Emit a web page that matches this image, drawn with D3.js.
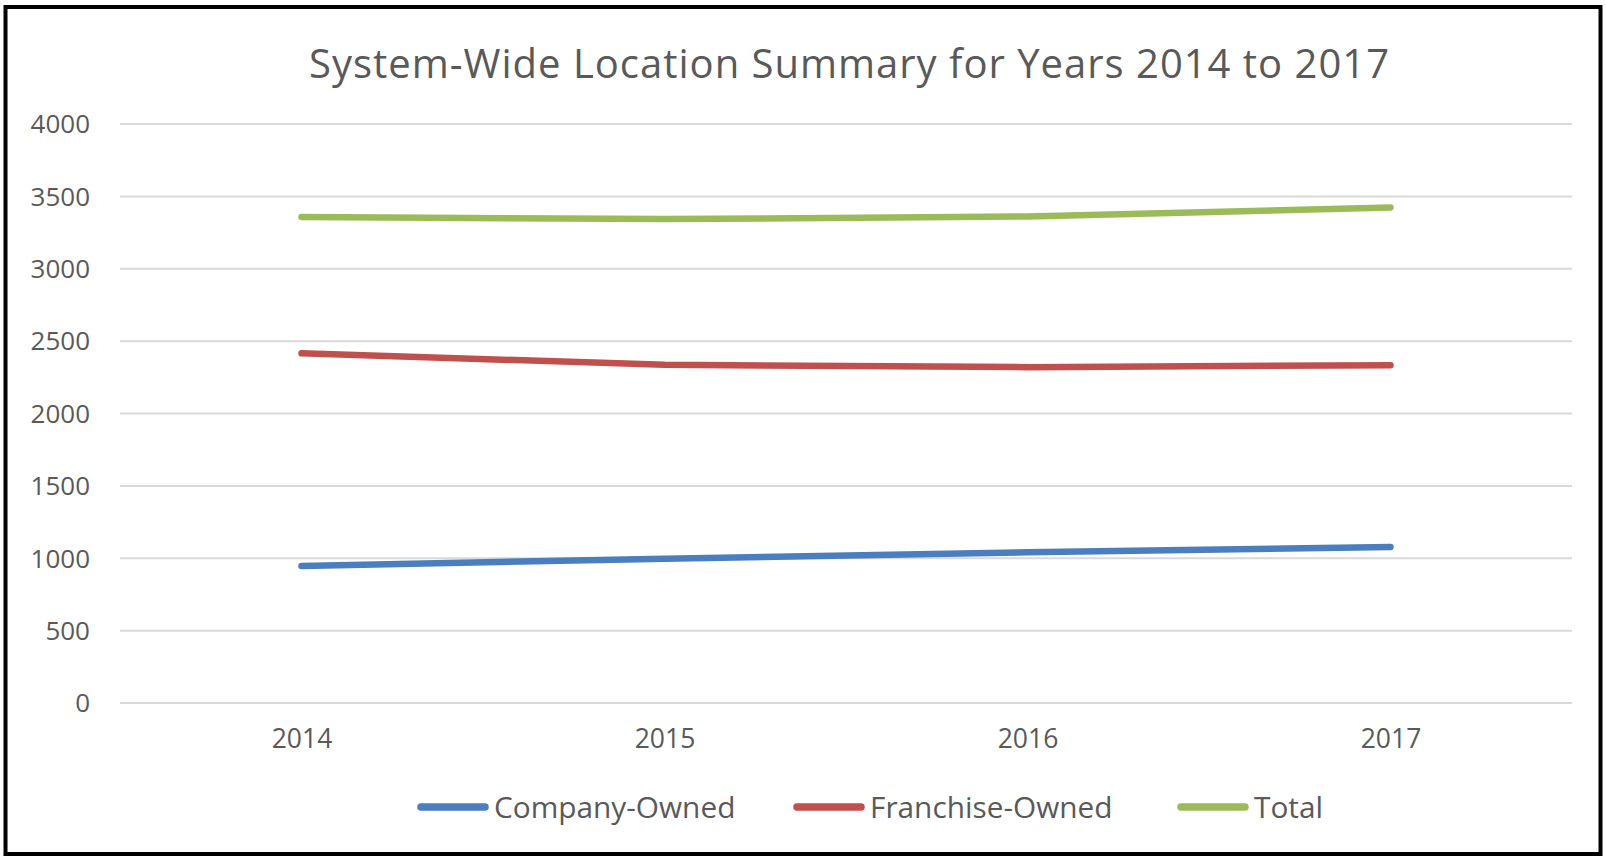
<!DOCTYPE html>
<html>
<head>
<meta charset="utf-8">
<script src="https://cdn.jsdelivr.net/npm/d3@7"></script>
<style>
  html, body { margin: 0; padding: 0; background: #fff; }
  svg { display: block; }
  text { font-family: "Open Sans", sans-serif; fill: #595959; }
</style>
</head>
<body>
<svg id="chart" width="1606" height="857"></svg>
<script>
const title = "System-Wide Location Summary for Years 2014 to 2017";
const years = ["2014", "2015", "2016", "2017"];
const seriesNames = ["Company-Owned", "Franchise-Owned", "Total"];
const companyOwned = [947, 997, 1041, 1078];
const franchiseOwned = [2416, 2336, 2320, 2334];
const total = [3357, 3343, 3361, 3423];
const yTicks = [0, 500, 1000, 1500, 2000, 2500, 3000, 3500, 4000];
const colors = ["#4a7ebf", "#c0504d", "#9bbb59"];

const seriesValues = [companyOwned, franchiseOwned, total];
const series = seriesNames.map((name, i) => ({
  name, color: colors[i],
  values: years.map((y, j) => ({ year: y, value: seriesValues[i][j] }))
}));

const svg = d3.select("#chart");
const W = 1606, H = 857;
const plot = { left: 120, right: 1572, top: 124, bottom: 703 };

svg.append("rect").attr("width", W).attr("height", H).attr("fill", "#fff");

// outer border
svg.append("rect")
  .attr("x", 5.5).attr("y", 7).attr("width", 1595).attr("height", 847)
  .attr("fill", "none").attr("stroke", "#000").attr("stroke-width", 4);

const x = d3.scalePoint().domain(years).range([plot.left, plot.right]).padding(0.5);
const y = d3.scaleLinear().domain([0, 4000]).range([plot.bottom, plot.top]);

// title
svg.append("text")
  .attr("x", 849).attr("y", 78)
  .attr("text-anchor", "middle")
  .attr("font-size", 40)
  .attr("textLength", 1080)
  .attr("lengthAdjust", "spacing")
  .text(title);

// gridlines
svg.append("g").selectAll("line").data(yTicks).join("line")
  .attr("x1", plot.left).attr("x2", plot.right)
  .attr("y1", d => y(d)).attr("y2", d => y(d))
  .attr("stroke", "#d9d9d9").attr("stroke-width", 2);

// y axis labels
const yAxis = d3.axisLeft(y).tickValues(yTicks).tickSize(0).tickPadding(0).tickFormat(d3.format("d"));
const gy = svg.append("g").attr("transform", `translate(90,0)`).call(yAxis);
gy.select(".domain").remove();
gy.selectAll("text").attr("font-size", 26).attr("fill", "#595959")
  .attr("font-family", "Open Sans, sans-serif").attr("dy", "0.34em");

// x axis labels
const xAxis = d3.axisBottom(x).tickSize(0).tickPadding(0);
const gx = svg.append("g").attr("transform", `translate(0,748)`).call(xAxis);
gx.select(".domain").remove();
gx.selectAll("text").attr("font-size", 26.5).attr("fill", "#595959")
  .attr("font-family", "Open Sans, sans-serif").attr("dy", 0);

// lines
const line = d3.line().x(d => x(d.year)).y(d => y(d.value));
svg.append("g").selectAll("path").data(series).join("path")
  .attr("d", d => line(d.values))
  .attr("fill", "none")
  .attr("stroke", d => d.color)
  .attr("stroke-width", 6.5)
  .attr("stroke-linecap", "round")
  .attr("stroke-linejoin", "round");

// legend
const legendX = [421, 797, 1181];
const lg = svg.append("g").selectAll("g").data(series).join("g")
  .attr("transform", (d, i) => `translate(${legendX[i]},807)`);
lg.append("line").attr("x1", 0).attr("x2", 64).attr("y1", 0).attr("y2", 0)
  .attr("stroke", d => d.color).attr("stroke-width", 7.5).attr("stroke-linecap", "round");
lg.append("text").attr("x", 73).attr("y", 11)
  .attr("font-size", 29.8).text(d => d.name);
</script>
</body>
</html>
